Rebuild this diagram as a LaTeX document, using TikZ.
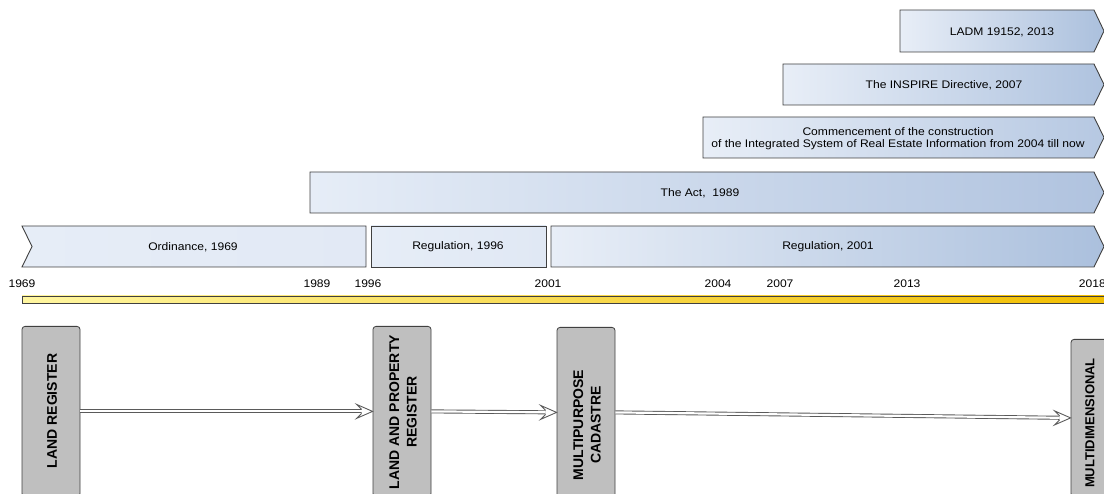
\documentclass[tikz,border=0pt]{standalone}
\usepackage{fontspec}
\setmainfont{Liberation Sans}
\newfontfamily\labfont[FakeStretch=1.1]{Liberation Sans}
\usetikzlibrary{arrows.meta,calc}
\definecolor{edgec}{HTML}{404040}
\definecolor{linec}{HTML}{5A5A5A}
\definecolor{lightb}{HTML}{E8EEF7}
\definecolor{lightc}{HTML}{E6EDF7}
\definecolor{darkA}{HTML}{ABC0DD}
\definecolor{darkB}{HTML}{AFC3DF}
\definecolor{darkC}{HTML}{B6C8E2}
\definecolor{darkD}{HTML}{B0C3DF}
\definecolor{flatA}{HTML}{E2E9F5}
\definecolor{flatB}{HTML}{E0E8F4}
\definecolor{barL}{HTML}{FFF6A0}
\definecolor{barR}{HTML}{F2BE00}
\definecolor{boxgray}{HTML}{BFBFBF}
\tikzset{
  band/.style={draw=edgec, line width=0.9pt, line join=miter},
  lab/.style={font=\labfont\fontsize{11}{11.5}\selectfont, text=black, inner sep=0pt, align=center},
  yearlab/.style={font=\labfont\fontsize{11}{12}\selectfont, text=black, inner sep=0pt},
  gbox/.style={draw=edgec, fill=boxgray, line width=0.8pt, rounded corners=3pt, inner sep=0pt},
  vlab/.style={font=\bfseries\fontsize{14}{17.5}\selectfont, rotate=90, align=center, inner sep=0pt},
  dbl/.style={double=white, double distance=2.2pt, line width=0.9pt, draw=linec, shorten >=11pt},
  dhead/.style={draw=linec, fill=white, line width=0.9pt, line join=miter}
}
\newcommand\dblhead[1]{%
  \path[dhead] ($(#1)+(-11,-2)$) -- ($(#1)+(-16,-7)$) -- (#1) -- ($(#1)+(-16,7)$) -- ($(#1)+(-11,2)$);}
\begin{document}
\begin{tikzpicture}[x=1pt,y=-1pt]
\useasboundingbox (0,0) rectangle (1104,494);
\clip (0,0) rectangle (1104,494);

% top bands
\path[band, left color=lightb, right color=darkA]
  (900,10) -- (1094,10) -- (1104,31) -- (1094,52) -- (900,52) -- cycle;
\path[band, left color=lightb, right color=darkB]
  (783,64) -- (1094,64) -- (1104,84.5) -- (1094,105) -- (783,105) -- cycle;
\path[band, left color=lightb, right color=darkC]
  (703,117) -- (1094,117) -- (1104,137.5) -- (1094,158) -- (703,158) -- cycle;
\path[band, left color=lightc, right color=darkD]
  (310,172) -- (1094,172) -- (1104,192.5) -- (1094,213) -- (310,213) -- cycle;
\path[band, left color=lightc, right color=flatA]
  (22,226) -- (366,226) -- (366,267) -- (22,267) -- (32,246.5) -- cycle;
\path[band, left color=lightc, right color=flatB]
  (371,226) rectangle (546,267);
\path[band, left color=lightb, right color=darkA]
  (551,226) -- (1094,226) -- (1104,246.5) -- (1094,267) -- (551,267) -- cycle;

\node[lab] (tladm) at (1002,32) {LADM 19152, 2013};
\node[lab] (tins) at (944,85) {The INSPIRE Directive, 2007};
\node[lab] (tcom) at (898,138.5) {Commencement of the construction\\of the Integrated System of Real Estate Information from 2004 till now};
\node[lab] (tact) at (700,193) {The Act,\ \ 1989};
\node[lab] (tord) at (193,247) {Ordinance, 1969};
\node[lab] (t96) at (458,247) {Regulation, 1996};
\node[lab] (t01) at (828,247) {Regulation, 2001};

% years
\node[yearlab] (y69) at (22,284) {1969};
\node[yearlab] (y89) at (317,284) {1989};
\node[yearlab] (y96) at (368,284) {1996};
\node[yearlab] (y01) at (548,284) {2001};
\node[yearlab] (y04) at (718,284) {2004};
\node[yearlab] (y07) at (780,284) {2007};
\node[yearlab] (y13) at (907,284) {2013};
\node[yearlab, anchor=east] (y18) at (1106,284) {2018};

% timeline bar
\path[draw=edgec, line width=0.8pt, left color=barL, right color=barR]
  (22,296) rectangle (1108,303);

% stage boxes
\node[gbox, minimum width=58pt, minimum height=170pt, anchor=north] (lr) at (51,326) {};
\node[gbox, minimum width=58pt, minimum height=170pt, anchor=north] (lpr) at (402,326) {};
\node[gbox, minimum width=58pt, minimum height=170pt, anchor=north] (mp) at (586,327) {};
\node[gbox, minimum width=58pt, minimum height=157pt, anchor=north] (md) at (1100,339) {};

\node[vlab] (llr) at (52,411) {LAND REGISTER};
\node[vlab] (llpr) at (403,412) {LAND AND PROPERTY\\REGISTER};
\node[vlab] (lmp) at (587,425) {MULTIPURPOSE\\CADASTRE};
\node[vlab, font=\bfseries\fontsize{13}{16}\selectfont] (lmd) at (1090,423) {MULTIDIMENSIONAL};

\draw[dbl] (lr.east) -- (lpr.west);
\dblhead{lpr.west}
\draw[dbl] (lpr.east) -- (mp.west);
\dblhead{mp.west}
\draw[dbl] (mp.east) -- (md.west);
\dblhead{md.west}
\end{tikzpicture}
\end{document}
